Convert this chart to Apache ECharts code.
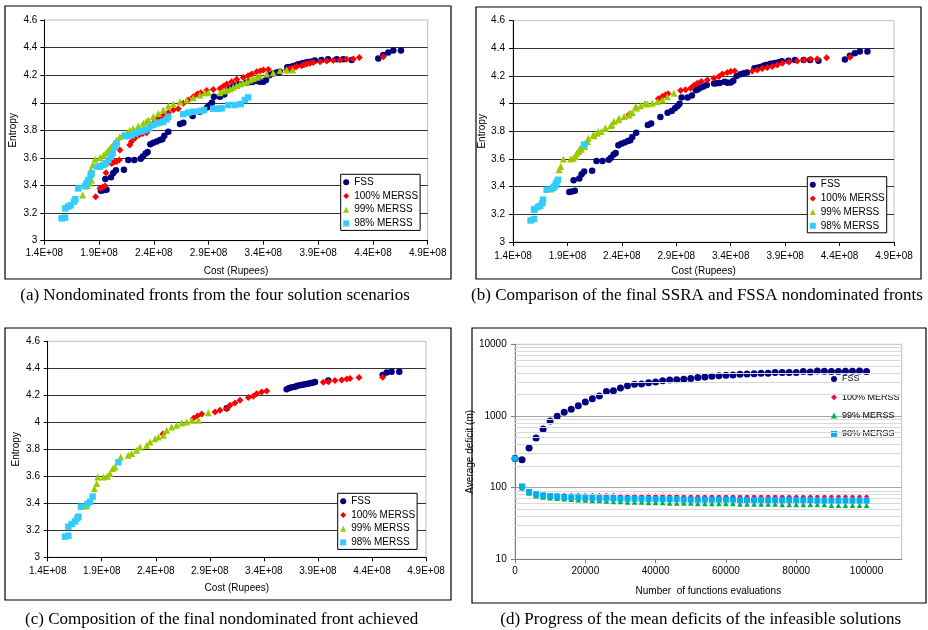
<!DOCTYPE html>
<html><head><meta charset="utf-8">
<script src="https://cdn.jsdelivr.net/npm/echarts@6/dist/echarts.min.js"></script>
<style>html,body{margin:0;padding:0;background:#fff}#c{width:928px;height:630px}</style>
</head><body><div id="c"></div>
<script>
// ---------- names & captions ----------
const seriesNames = ['FSS', '100% MERSS', '99% MERSS', '98% MERSS'];
const captions = [
  '(a) Nondominated fronts from the four solution scenarios',
  '(b) Comparison of the final SSRA and FSSA nondominated fronts',
  '(c) Composition of the final nondominated front achieved',
  '(d) Progress of the mean deficits of the infeasible solutions'
];
// cost in units of 1E+08 Rupees, entropy
const aFSS = [[1.917,3.362],[1.94,3.365],[1.968,3.37],[1.957,3.447],[2.009,3.46],[2.03,3.49],[2.054,3.51],[2.127,3.515],[2.167,3.585],[2.222,3.585],[2.28,3.595],[2.30,3.61],[2.325,3.633],[2.343,3.643],[2.368,3.70],[2.395,3.71],[2.426,3.72],[2.456,3.73],[2.477,3.735],[2.496,3.76],[2.532,3.79],[2.639,3.846],[2.669,3.856],[2.754,3.904],[2.82,3.935],[2.858,3.947],[2.888,3.967],[2.912,3.984],[2.93,4.0],[2.949,4.044],[3.004,4.044],[3.043,4.06],[3.08,4.097],[3.10,4.105],[3.125,4.117],[3.15,4.125],[3.18,4.136],[3.247,4.146],[3.27,4.148],[3.30,4.15],[3.345,4.158],[3.37,4.152],[3.40,4.153],[3.424,4.165],[3.454,4.20],[3.49,4.213],[3.52,4.22],[3.55,4.225],[3.618,4.257],[3.645,4.26],[3.673,4.266],[3.70,4.272],[3.72,4.279],[3.745,4.282],[3.765,4.288],[3.79,4.291],[3.81,4.295],[3.84,4.30],[3.87,4.307],[3.93,4.31],[3.99,4.315],[4.07,4.315],[4.13,4.315],[4.206,4.31],[4.449,4.32],[4.495,4.346],[4.54,4.365],[4.586,4.378],[4.656,4.378]];
const aM100 = [[1.869,3.319],[1.908,3.38],[1.932,3.387],[1.954,3.396],[1.963,3.493],[2.015,3.56],[2.036,3.57],[2.06,3.575],[2.085,3.585],[2.09,3.657],[2.18,3.694],[2.195,3.718],[2.226,3.742],[2.266,3.766],[2.30,3.778],[2.334,3.783],[2.365,3.822],[2.395,3.851],[2.426,3.875],[2.456,3.894],[2.493,3.911],[2.532,3.928],[2.578,3.947],[2.623,3.957],[2.669,3.996],[2.715,4.02],[2.76,4.044],[2.797,4.063],[2.827,4.073],[2.882,4.088],[2.943,4.097],[3.004,4.104],[3.035,4.12],[3.065,4.136],[3.11,4.153],[3.156,4.17],[3.217,4.184],[3.26,4.195],[3.293,4.208],[3.339,4.225],[3.37,4.23],[3.40,4.237],[3.445,4.242],[3.612,4.237],[3.635,4.244],[3.657,4.25],[3.68,4.256],[3.703,4.262],[3.749,4.269],[3.77,4.275],[3.795,4.281],[3.825,4.286],[3.856,4.291],[3.917,4.298],[3.978,4.303],[4.038,4.307],[4.099,4.31],[4.16,4.315],[4.221,4.317],[4.276,4.329],[4.495,4.334]];
const aM99 = [[1.75,3.331],[1.793,3.399],[1.817,3.416],[1.832,3.44],[1.826,3.512],[1.841,3.549],[1.863,3.59],[1.908,3.604],[1.94,3.62],[1.963,3.638],[1.985,3.657],[2.006,3.677],[2.03,3.70],[2.06,3.73],[2.09,3.754],[2.12,3.77],[2.152,3.783],[2.18,3.80],[2.212,3.814],[2.258,3.831],[2.304,3.851],[2.33,3.865],[2.35,3.875],[2.395,3.90],[2.441,3.923],[2.486,3.947],[2.532,3.976],[2.578,3.991],[2.639,4.008],[2.70,4.02],[2.76,4.037],[2.82,4.056],[2.867,4.073],[2.897,4.073],[3.004,4.073],[3.035,4.085],[3.065,4.092],[3.095,4.10],[3.125,4.112],[3.155,4.125],[3.186,4.136],[3.215,4.145],[3.247,4.153],[3.28,4.165],[3.308,4.175],[3.34,4.185],[3.369,4.194],[3.43,4.208],[3.49,4.218],[3.551,4.233],[3.612,4.237],[3.667,4.237]];
const aM98 = [[1.558,3.162],[1.589,3.167],[1.592,3.234],[1.619,3.247],[1.64,3.256],[1.671,3.283],[1.683,3.30],[1.71,3.379],[1.771,3.396],[1.786,3.416],[1.802,3.44],[1.823,3.476],[1.832,3.488],[1.884,3.537],[1.908,3.537],[1.939,3.549],[1.963,3.561],[1.985,3.585],[2.006,3.609],[2.024,3.633],[2.045,3.681],[2.06,3.706],[2.136,3.759],[2.167,3.759],[2.197,3.764],[2.228,3.778],[2.258,3.788],[2.289,3.793],[2.319,3.802],[2.359,3.814],[2.395,3.839],[2.426,3.851],[2.456,3.856],[2.486,3.863],[2.517,3.88],[2.532,3.899],[2.669,3.918],[2.715,3.928],[2.76,3.935],[2.82,3.94],[2.858,3.947],[2.943,3.957],[2.989,3.957],[3.019,3.96],[3.08,3.984],[3.141,3.984],[3.193,3.991],[3.232,4.02],[3.262,4.039]];
const bM100 = [[2.465,3.92],[2.735,4.035],[2.772,4.052],[2.802,4.064],[2.824,4.071],[2.94,4.095],[2.986,4.10],[3.032,4.112],[3.063,4.133],[3.093,4.148],[3.13,4.16],[3.185,4.172],[3.246,4.184],[3.292,4.196],[3.323,4.215],[3.369,4.225],[3.40,4.232],[3.436,4.237],[3.598,4.237],[3.644,4.244],[3.69,4.254],[3.736,4.261],[3.782,4.268],[3.828,4.28],[3.874,4.292],[3.935,4.302],[4.012,4.309],[4.073,4.316],[4.134,4.321],[4.195,4.323],[4.281,4.333],[4.495,4.335]];
const bM99 = [[1.752,3.383],[1.823,3.522],[1.838,3.546],[1.862,3.60],[1.93,3.60],[1.954,3.606],[1.976,3.618],[1.985,3.642],[2.006,3.654],[2.015,3.678],[2.028,3.671],[2.058,3.69],[2.061,3.714],[2.083,3.727],[2.092,3.751],[2.138,3.775],[2.144,3.768],[2.175,3.787],[2.184,3.799],[2.211,3.799],[2.245,3.823],[2.251,3.823],[2.297,3.84],[2.307,3.847],[2.328,3.871],[2.368,3.883],[2.374,3.895],[2.42,3.907],[2.465,3.919],[2.475,3.932],[2.496,3.936],[2.527,3.98],[2.536,3.968],[2.573,3.985],[2.613,4.004],[2.634,3.997],[2.68,4.003],[2.726,4.015],[2.772,4.027],[2.818,4.051],[2.879,4.075]];
const bM98 = [[1.562,3.156],[1.593,3.166],[1.593,3.233],[1.60,3.238],[1.63,3.253],[1.65,3.262],[1.67,3.281],[1.676,3.306],[1.709,3.378],[1.77,3.39],[1.78,3.40],[1.792,3.414],[1.80,3.43],[1.813,3.45],[2.052,3.703]];
const cFSS = [[3.056,4.104],[3.611,4.244],[3.636,4.254],[3.66,4.26],[3.688,4.264],[3.71,4.27],[3.734,4.274],[3.757,4.278],[3.781,4.281],[3.805,4.285],[3.827,4.289],[3.85,4.293],[3.873,4.299],[3.996,4.309],[4.499,4.351],[4.536,4.368],[4.582,4.375],[4.653,4.375]];
const cM100 = [[2.465,3.913],[2.748,4.03],[2.785,4.047],[2.825,4.062],[2.948,4.077],[2.994,4.09],[3.056,4.101],[3.087,4.126],[3.133,4.143],[3.179,4.163],[3.256,4.183],[3.302,4.193],[3.333,4.212],[3.38,4.225],[3.426,4.232],[3.95,4.296],[3.996,4.301],[4.058,4.309],[4.12,4.314],[4.166,4.321],[4.197,4.324],[4.28,4.331],[4.499,4.333]];
const cM99 = [[1.761,3.38],[1.832,3.51],[1.853,3.546],[1.863,3.595],[1.915,3.595],[1.952,3.60],[1.977,3.62],[2.001,3.657],[2.023,3.669],[2.075,3.743],[2.146,3.756],[2.177,3.768],[2.223,3.793],[2.254,3.817],[2.316,3.83],[2.347,3.854],[2.393,3.879],[2.424,3.891],[2.47,3.904],[2.501,3.941],[2.547,3.965],[2.593,3.978],[2.64,3.995],[2.686,4.002],[2.732,4.015],[2.794,4.015],[2.886,4.07]];
const cM98 = [[1.56,3.153],[1.591,3.16],[1.591,3.227],[1.622,3.247],[1.653,3.265],[1.674,3.289],[1.684,3.301],[1.708,3.375],[1.767,3.395],[1.792,3.412],[1.816,3.449],[2.054,3.704]];
// panel (d): number of function evaluations and average deficits (m)
const evals = [0,2000,4000,6000,8000,10000,12000,14000,16000,18000,20000,22000,24000,26000,28000,30000,32000,34000,36000,38000,40000,42000,44000,46000,48000,50000,52000,54000,56000,58000,60000,62000,64000,66000,68000,70000,72000,74000,76000,78000,80000,82000,84000,86000,88000,90000,92000,94000,96000,98000,100000];
const dFSS = [255,245,357,493,659,851,990,1125,1239,1393,1567,1745,1901,2187,2256,2459,2650,2766,2800,2918,2981,3110,3180,3214,3250,3320,3428,3503,3576,3655,3700,3735,3815,3855,3897,3939,3939,4028,4028,4028,4028,4159,4113,4250,4200,4160,4160,4200,4200,4250,4160];
const dM100 = [255,97,86,81,79,78,78,78,78,78,78,78,78,78,78,77,77,77,77,77,77,77,77,77,76,76,76,76,76,76,76,76,76,76,76,76,76,76,75,75,75,75,75,75,75,75,75,75,75,75,75];
const dM99 = [255,100,84,77,74,72,71,70,69,68,67,66,66,65,64,64,63,63,63,62,62,62,61,61,61,61,60,60,60,60,60,60,59,59,59,59,59,59,58,58,58,58,58,58,58,57,57,57,57,57,57];
const dM98 = [255,104,87,81,78,76,75,74,73,73,72,72,71,71,71,70,70,70,70,69,69,69,69,69,68,68,68,68,68,68,68,68,67,67,67,67,67,67,67,67,67,67,67,66,66,66,66,66,66,66,66];
const minorGrid = [20,30,40,50,60,70,80,90,200,300,400,500,600,700,800,900,2000,3000,4000,5000,6000,7000,8000,9000];

// ---------- styling ----------
const FONT = '"Liberation Sans", Arial, sans-serif';
const symbols = ['circle', 'diamond', 'triangle', 'rect'];
const colorsABC = ['#000080', '#ff0000', '#99cc00', '#33ccff'];
const sizesABC = [6.5, 7, 7, 6.5];
const colorsD = ['#000080', '#ff0066', '#00b050', '#00b0f0'];
const sizesD = [7, 5, 5.5, 6];

const chart = echarts.init(document.getElementById('c'), null, {renderer: 'canvas'});

const grids = [
  {left: 44.3, top: 20, width: 383.4, height: 220.7},
  {left: 513, top: 20.7, width: 381, height: 221.3},
  {left: 47.7, top: 341.3, width: 378.3, height: 216},
  {left: 515, top: 344.3, width: 386.7, height: 215}
].map(g => Object.assign({show: true, borderColor: '#bfbfbf', borderWidth: 1, backgroundColor: 'transparent'}, g));

const costFmt = v => v.toFixed(1) + 'E+08';
function costAxis(i, margin, nameGap) {
  return {
    type: 'value', gridIndex: i, min: 1.4, max: 4.9, interval: 0.5,
    axisLine: {onZero: false, lineStyle: {color: '#000', width: 1}},
    axisTick: {show: true, length: 4, lineStyle: {color: '#000'}},
    axisLabel: {formatter: costFmt, fontSize: 10, fontFamily: FONT, color: '#000', margin: margin},
    splitLine: {show: false},
    name: 'Cost (Rupees)', nameLocation: 'middle', nameGap: nameGap,
    nameTextStyle: {fontSize: 10, fontFamily: FONT, color: '#000'}
  };
}
function entropyAxis(i, margin, nameGap) {
  return {
    type: 'value', gridIndex: i, min: 3, max: 4.6, interval: 0.2,
    axisLine: {show: true, onZero: false, lineStyle: {color: '#000', width: 1}},
    axisTick: {show: true, length: 4, lineStyle: {color: '#000'}},
    axisLabel: {formatter: v => String(Math.round(v * 10) / 10), fontSize: 10, fontFamily: FONT, color: '#000', margin: margin},
    splitLine: {show: true, showMinLine: false, showMaxLine: false, lineStyle: {color: '#333', width: 1}},
    name: 'Entropy', nameLocation: 'middle', nameGap: nameGap,
    nameTextStyle: {fontSize: 10, fontFamily: FONT, color: '#000'}
  };
}
const plainFmt = v => String(Math.round(v));

const xAxes = [costAxis(0, 8, 26), costAxis(1, 9, 24.5), costAxis(2, 8.5, 26), {
  type: 'value', gridIndex: 3, min: 0, max: 110000, interval: 20000,
  axisLine: {onZero: false, lineStyle: {color: '#808080'}},
  axisTick: {show: true, length: 4, lineStyle: {color: '#808080'}},
  axisLabel: {formatter: plainFmt, fontSize: 10, fontFamily: FONT, color: '#000', margin: 6.5, showMaxLabel: false},
  splitLine: {show: false},
  name: 'Number  of functions evaluations', nameLocation: 'middle', nameGap: 26.5,
  nameTextStyle: {fontSize: 10, fontFamily: FONT, color: '#000'}
}];
const yAxes = [entropyAxis(0, 7, 26), entropyAxis(1, 8, 24), entropyAxis(2, 7.7, 26), {
  type: 'log', logBase: 10, gridIndex: 3, min: 10, max: 10000,
  axisLine: {show: true, onZero: false, lineStyle: {color: '#808080'}},
  axisTick: {show: true, length: 4, lineStyle: {color: '#808080'}},
  axisLabel: {formatter: plainFmt, fontSize: 10, fontFamily: FONT, color: '#000', margin: 8.3},
  splitLine: {show: true, showMinLine: false, showMaxLine: false, lineStyle: {color: '#a6a6a6', width: 1}},
  name: 'Average deficit (m)', nameLocation: 'middle', nameGap: 29,
  nameTextStyle: {fontSize: 10, fontFamily: FONT, color: '#000'}
}];

function sc(k, data, gi, colors, sizes) {
  return {
    type: 'scatter', name: seriesNames[k], xAxisIndex: gi, yAxisIndex: gi,
    data: data, symbol: symbols[k], symbolSize: sizes[k],
    itemStyle: {color: colors[k], opacity: 1}, z: 3 + k, silent: true
  };
}
const dPairs = arr => evals.map((x, i) => [x, arr[i]]);

const series = [
  sc(0, aFSS, 0, colorsABC, sizesABC), sc(1, aM100, 0, colorsABC, sizesABC), sc(2, aM99, 0, colorsABC, sizesABC), sc(3, aM98, 0, colorsABC, sizesABC),
  sc(0, aFSS, 1, colorsABC, sizesABC), sc(1, bM100, 1, colorsABC, sizesABC), sc(2, bM99, 1, colorsABC, sizesABC), sc(3, bM98, 1, colorsABC, sizesABC),
  sc(0, cFSS, 2, colorsABC, sizesABC), sc(1, cM100, 2, colorsABC, sizesABC), sc(2, cM99, 2, colorsABC, sizesABC), sc(3, cM98, 2, colorsABC, sizesABC),
  {
    type: 'scatter', name: 'minor', xAxisIndex: 3, yAxisIndex: 3, data: [], z: 1, silent: true,
    markLine: {
      silent: true, symbol: 'none', animation: false, label: {show: false},
      lineStyle: {color: '#d9d9d9', type: 'solid', width: 1},
      data: minorGrid.map(v => ({yAxis: v}))
    }
  },
  sc(0, dPairs(dFSS), 3, colorsD, sizesD), sc(1, dPairs(dM100), 3, colorsD, sizesD), sc(2, dPairs(dM99), 3, colorsD, sizesD), sc(3, dPairs(dM98), 3, colorsD, sizesD)
];

function boxLegend(left, top) {
  return {
    orient: 'vertical', left: left, top: top, selectedMode: false,
    borderColor: '#000', borderWidth: 1, padding: [3, 2, 2, 2.5], itemGap: 3.7,
    itemWidth: 6, itemHeight: 6, backgroundColor: '#fff',
    textStyle: {fontSize: 10, fontFamily: FONT, color: '#000'},
    data: seriesNames.map((n, k) => ({name: n, icon: symbols[k], itemStyle: {color: colorsABC[k]}}))
  };
}
const legends = [
  boxLegend(340.7, 174.3), boxLegend(807.3, 176.7), boxLegend(337.7, 493.3),
  {
    orient: 'vertical', left: 831, top: 374.5, selectedMode: false, padding: 0, itemGap: 9.3,
    itemWidth: 6, itemHeight: 6,
    textStyle: {fontSize: 9, fontFamily: FONT, color: '#000'},
    data: seriesNames.map((n, k) => ({name: n, icon: symbols[k], itemStyle: {color: colorsD[k]}}))
  }
];

const frames = [[5, 6, 446, 273], [476, 7, 445, 272], [5, 328, 446, 272], [472, 328, 454, 275]];
const captionPos = [[215, 296], [697, 296], [221.7, 620], [700.7, 620]];
const graphic = frames.map(f => ({
  type: 'rect', shape: {x: f[0], y: f[1], width: f[2], height: f[3]},
  style: {fill: 'none', stroke: '#000', lineWidth: 1.2}, z: 0, silent: true
})).concat(captions.map((t, i) => ({
  type: 'text', x: captionPos[i][0], y: captionPos[i][1], silent: true,
  style: {text: t, font: '17px "Liberation Serif", "Times New Roman", serif', fill: '#000', align: 'center', verticalAlign: 'middle'}
})));

chart.setOption({
  animation: false,
  backgroundColor: '#fff',
  grid: grids, xAxis: xAxes, yAxis: yAxes,
  legend: legends, series: series, graphic: graphic
});
</script></body></html>
